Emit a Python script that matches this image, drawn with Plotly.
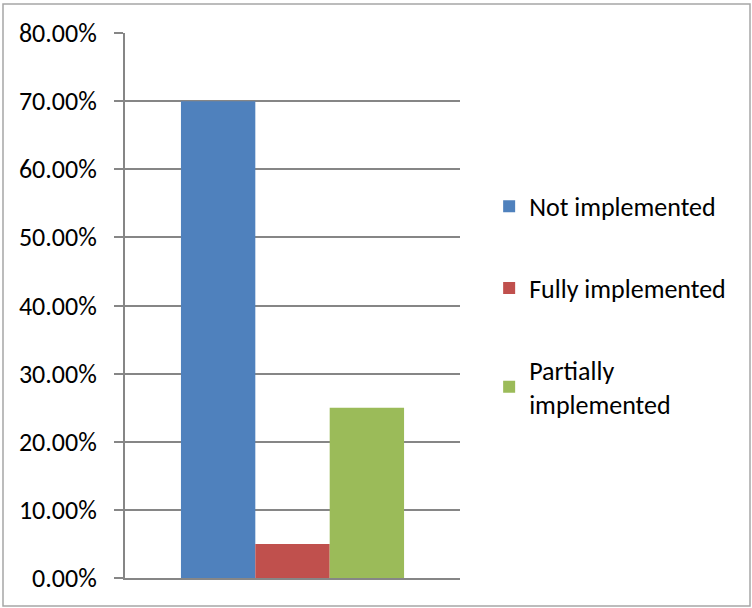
import plotly.graph_objects as go

# Chart data
categories = ["Not implemented", "Fully implemented", "Partially<br>implemented"]
shares = [0.70, 0.05, 0.25]
colors = ["#4F81BD", "#C0504D", "#9BBB59"]

GRID = "#868686"
FONT = "Carlito, Lato, 'Open Sans', sans-serif"

fig = go.Figure()

# one trace per status so each gets its own legend entry
for i, (name, val) in enumerate(zip(categories, shares)):
    fig.add_trace(
        go.Bar(
            x=[0],
            y=[val],
            name=name,
            legendgroup=f"g{i}",
            marker=dict(color=colors[i], line=dict(width=0)),
        )
    )

fig.update_layout(
    width=752,
    height=608,
    margin=dict(l=125, r=292, t=33, b=30, autoexpand=False),
    paper_bgcolor="white",
    plot_bgcolor="white",
    barmode="group",
    bargap=0.334,
    bargroupgap=0,
    font=dict(family=FONT, size=26, color="black"),
    showlegend=True,
    legend=dict(
        x=1.087,
        y=0.725,
        xanchor="left",
        yanchor="top",
        traceorder="grouped",
        tracegroupgap=45,
        font=dict(family=FONT, size=26, color="black"),
        itemwidth=30,
    ),
)

fig.update_xaxes(
    range=[-0.5, 0.5],
    showticklabels=False,
    showgrid=False,
    zeroline=False,
    showline=True,
    linecolor=GRID,
    linewidth=1.5,
    ticks="",
)

fig.update_yaxes(
    range=[0, 0.8],
    dtick=0.1,
    tickformat=".2%",
    showgrid=True,
    gridcolor=GRID,
    gridwidth=1.5,
    zeroline=False,
    showline=True,
    linecolor=GRID,
    linewidth=2,
    ticks="outside",
    ticklen=9,
    tickcolor=GRID,
    tickwidth=1.5,
    ticklabelstandoff=12,
)

# thin grey frame around the whole chart area
fig.add_shape(
    type="rect",
    xref="paper",
    yref="paper",
    x0=(3 - 125) / 335,
    x1=(750 - 125) / 335,
    y0=(578 - 606) / 545,
    y1=(578 - 4) / 545,
    line=dict(color="#A6A6A6", width=1.5),
    fillcolor="rgba(0,0,0,0)",
    layer="below",
)

# drop the default page margin so the figure sits at the window origin
fig.write_html(
    "out.html",
    config={"displayModeBar": False},
    post_script="document.body.style.margin='0';",
)
